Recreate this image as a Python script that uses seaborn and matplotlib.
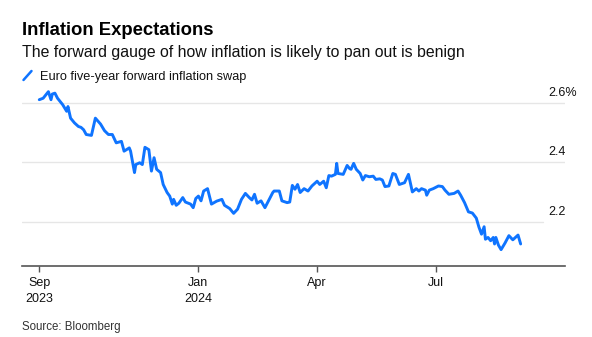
import matplotlib
matplotlib.use("Agg")
import matplotlib.pyplot as plt
import matplotlib.dates as mdates
from matplotlib.lines import Line2D
import matplotlib.transforms as mtransforms
import pandas as pd
import seaborn as sns

# ---- data ----
dates = [
    "2023-09-01", "2023-09-04", "2023-09-06", "2023-09-08", "2023-09-10", "2023-09-11",
    "2023-09-13", "2023-09-15", "2023-09-19", "2023-09-22", "2023-09-23", "2023-09-25",
    "2023-09-28", "2023-10-01", "2023-10-03", "2023-10-05", "2023-10-07", "2023-10-11",
    "2023-10-14", "2023-10-18", "2023-10-21", "2023-10-24", "2023-10-27", "2023-10-30",
    "2023-11-03", "2023-11-05", "2023-11-09", "2023-11-10", "2023-11-13", "2023-11-14",
    "2023-11-17", "2023-11-19", "2023-11-21", "2023-11-24", "2023-11-26", "2023-11-28",
    "2023-11-30", "2023-12-03", "2023-12-05", "2023-12-08", "2023-12-10", "2023-12-12",
    "2023-12-13", "2023-12-15", "2023-12-17", "2023-12-20", "2023-12-22", "2023-12-26",
    "2023-12-28", "2023-12-30", "2024-01-01", "2024-01-03", "2024-01-05", "2024-01-08",
    "2024-01-11", "2024-01-15", "2024-01-19", "2024-01-21", "2024-01-25", "2024-01-28",
    "2024-01-31", "2024-02-03", "2024-02-06", "2024-02-09", "2024-02-11", "2024-02-13",
    "2024-02-15", "2024-02-18", "2024-02-21", "2024-02-23", "2024-02-27", "2024-02-28",
    "2024-03-03", "2024-03-05", "2024-03-09", "2024-03-11", "2024-03-13", "2024-03-15",
    "2024-03-17", "2024-03-19", "2024-03-22", "2024-03-25", "2024-03-28", "2024-04-01",
    "2024-04-03", "2024-04-06", "2024-04-08", "2024-04-10", "2024-04-12", "2024-04-15",
    "2024-04-16", "2024-04-17", "2024-04-21", "2024-04-24", "2024-04-26", "2024-04-27",
    "2024-04-29", "2024-05-01", "2024-05-04", "2024-05-06", "2024-05-08", "2024-05-11",
    "2024-05-14", "2024-05-16", "2024-05-19", "2024-05-21", "2024-05-23", "2024-05-26",
    "2024-05-29", "2024-05-31", "2024-06-03", "2024-06-07", "2024-06-10", "2024-06-13",
    "2024-06-16", "2024-06-18", "2024-06-20", "2024-06-23", "2024-06-24", "2024-06-26",
    "2024-06-29", "2024-07-03", "2024-07-06", "2024-07-08", "2024-07-11", "2024-07-15",
    "2024-07-18", "2024-07-20", "2024-07-23", "2024-07-26", "2024-07-29", "2024-08-01",
    "2024-08-03", "2024-08-05", "2024-08-07", "2024-08-08", "2024-08-10", "2024-08-12",
    "2024-08-14", "2024-08-15", "2024-08-16", "2024-08-18", "2024-08-20", "2024-08-23",
    "2024-08-26", "2024-08-29", "2024-09-02", "2024-09-04",
]
swap = [
    2.610, 2.615, 2.626, 2.637, 2.610, 2.629,
    2.632, 2.615, 2.593, 2.571, 2.587, 2.548,
    2.532, 2.520, 2.517, 2.509, 2.493, 2.490,
    2.548, 2.528, 2.506, 2.493, 2.493, 2.465,
    2.470, 2.437, 2.448, 2.437, 2.365, 2.392,
    2.398, 2.392, 2.450, 2.442, 2.370, 2.415,
    2.376, 2.365, 2.325, 2.298, 2.286, 2.259,
    2.275, 2.255, 2.262, 2.281, 2.266, 2.259,
    2.247, 2.278, 2.286, 2.270, 2.303, 2.311,
    2.259, 2.269, 2.275, 2.255, 2.244, 2.228,
    2.242, 2.275, 2.295, 2.281, 2.273, 2.292,
    2.262, 2.270, 2.247, 2.264, 2.298, 2.303,
    2.303, 2.270, 2.264, 2.266, 2.322, 2.309,
    2.325, 2.298, 2.311, 2.303, 2.320, 2.336,
    2.325, 2.336, 2.314, 2.355, 2.353, 2.359,
    2.396, 2.362, 2.359, 2.389, 2.378, 2.376,
    2.396, 2.376, 2.362, 2.340, 2.355, 2.351,
    2.353, 2.342, 2.344, 2.340, 2.318, 2.320,
    2.362, 2.359, 2.325, 2.331, 2.359, 2.300,
    2.311, 2.303, 2.311, 2.306, 2.289, 2.306,
    2.311, 2.320, 2.318, 2.306, 2.292, 2.295,
    2.303, 2.289, 2.264, 2.233, 2.229, 2.212,
    2.182, 2.158, 2.183, 2.141, 2.147, 2.136,
    2.147, 2.125, 2.147, 2.121, 2.106, 2.128,
    2.153, 2.139, 2.155, 2.125,
]
y_ticks = [2.2, 2.4, 2.6]
y_tick_labels = ["2.2", "2.4", "2.6%"]
x_ticks = ["2023-09-01", "2024-01-01", "2024-04-01", "2024-07-01"]
x_tick_labels = ["Sep\n2023", "Jan\n2024", "Apr", "Jul"]

title = "Inflation Expectations"
subtitle = "The forward gauge of how inflation is likely to pan out is benign"
legend_label = "Euro five-year forward inflation swap"
source = "Source: Bloomberg"

LINE = "#0F74FF"

df = pd.DataFrame({"date": pd.to_datetime(dates), "value": swap})

sns.set_theme(style="white")
plt.rcParams["font.family"] = ["Liberation Sans", "DejaVu Sans"]

W, H = 592, 337
fig = plt.figure(figsize=(W / 100, H / 100), dpi=100)
ax = fig.add_axes([22.3 / W, 1 - 265.7 / H, (565 - 22.3) / W, (265.7 - 87.8) / H])

sns.lineplot(data=df, x="date", y="value", ax=ax, color=LINE, linewidth=2.1, zorder=3)

ax.set_xlim(pd.Timestamp("2023-08-19"), pd.Timestamp("2024-10-08"))
ax.set_ylim(2.052, 2.65)

# gridlines
for v in y_ticks:
    xmax = 0.959 if v == 2.2 else 1.0
    ax.axhline(v, xmin=0, xmax=xmax, color="#e6e6e6", linewidth=1.0, zorder=1)

# right-side labels above gridlines
trans = mtransforms.blended_transform_factory(fig.transFigure, ax.transData)
for v, lab in zip(y_ticks, y_tick_labels):
    ax.annotate(lab, xy=(548.3 / W, v), xycoords=trans, xytext=(0, 5),
                textcoords="offset points", ha="left", va="baseline",
                fontsize=9, color="#111111", annotation_clip=False)

ax.set_yticks([])
ax.set_ylabel("")
ax.set_xlabel("")
ax.set_xticks(pd.to_datetime(x_ticks))
ax.set_xticklabels(x_tick_labels, fontsize=9, color="#111111", linespacing=1.45)
ax.tick_params(axis="x", direction="out", length=4, width=1, color="#555555", pad=4,
               bottom=True)

for s in ["top", "right", "left"]:
    ax.spines[s].set_visible(False)
ax.spines["bottom"].set_color("#555555")
ax.spines["bottom"].set_linewidth(1.2)

# headings
fig.text(22 / W, 1 - 35 / H, title, fontsize=13.3, fontweight="bold", color="#000000",
         ha="left", va="baseline")
fig.text(22 / W, 1 - 56.5 / H, subtitle, fontsize=11.4, color="#111111",
         ha="left", va="baseline")
fig.add_artist(Line2D([23.5 / W, 31.5 / W], [1 - 80 / H, 1 - 71 / H],
                      color=LINE, linewidth=1.8, transform=fig.transFigure))
fig.text(40 / W, 1 - 80 / H, legend_label, fontsize=9.2, color="#111111",
         ha="left", va="baseline")
fig.text(22 / W, 1 - 330 / H, source, fontsize=8.3, color="#333333",
         ha="left", va="baseline")

fig.savefig("out.png", dpi=100, facecolor="white")
